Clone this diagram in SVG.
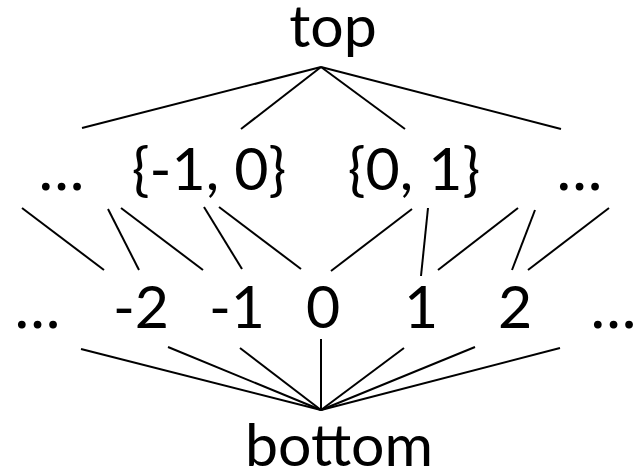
<svg xmlns="http://www.w3.org/2000/svg" width="641" height="472" viewBox="0 0 641 472">
<style>
text{font-family:Lato,"Open Sans","Liberation Sans",sans-serif;font-size:59px;fill:#000;text-anchor:middle}
text.d{font-size:62px;letter-spacing:1px}
.e line{stroke:#000;stroke-width:2;stroke-linecap:butt}
</style>
<rect width="641" height="472" fill="#fff"/>
<g class="e" id="connectors">
<line x1="321" y1="67" x2="82" y2="128"/>
<line x1="321" y1="67" x2="241" y2="129"/>
<line x1="321" y1="67" x2="405" y2="129"/>
<line x1="321" y1="67" x2="561" y2="129"/>
<line x1="22" y1="208" x2="104" y2="270"/>
<line x1="108" y1="209" x2="139" y2="270"/>
<line x1="121" y1="208" x2="203" y2="270"/>
<line x1="204" y1="207" x2="242" y2="269"/>
<line x1="219" y1="207" x2="301" y2="269"/>
<line x1="412" y1="209" x2="331" y2="271"/>
<line x1="428" y1="208" x2="421" y2="276"/>
<line x1="518" y1="208" x2="438" y2="270"/>
<line x1="535" y1="210" x2="512" y2="270"/>
<line x1="609" y1="208" x2="528" y2="270"/>
<line x1="321" y1="410" x2="81" y2="349"/>
<line x1="321" y1="410" x2="168" y2="347"/>
<line x1="321" y1="410" x2="240" y2="348"/>
<line x1="321" y1="410" x2="321" y2="339"/>
<line x1="321" y1="410" x2="404" y2="348"/>
<line x1="321" y1="410" x2="475" y2="347"/>
<line x1="321" y1="410" x2="560" y2="348"/>
</g>
<g id="n-top"><text x="333" y="47">top</text></g>
<g id="n-dots-l2"><text class="d" x="62" y="190">...</text></g>
<g id="n-m10"><text x="209" y="190">{-1, 0}</text></g>
<g id="n-01"><text x="414" y="190">{0, 1}</text></g>
<g id="n-dots-r2"><text class="d" x="580" y="190">...</text></g>
<g id="n-dots-l3"><text class="d" x="38" y="328">...</text></g>
<g id="n-m2"><text x="141" y="328">-2</text></g>
<g id="n-m1"><text x="237" y="328">-1</text></g>
<g id="n-0"><text x="323" y="328">0</text></g>
<g id="n-1"><text x="421" y="328">1</text></g>
<g id="n-2"><text x="515" y="328">2</text></g>
<g id="n-dots-r3"><text class="d" x="614" y="328">...</text></g>
<g id="n-bottom"><text x="339" y="466">bottom</text></g>
</svg>
